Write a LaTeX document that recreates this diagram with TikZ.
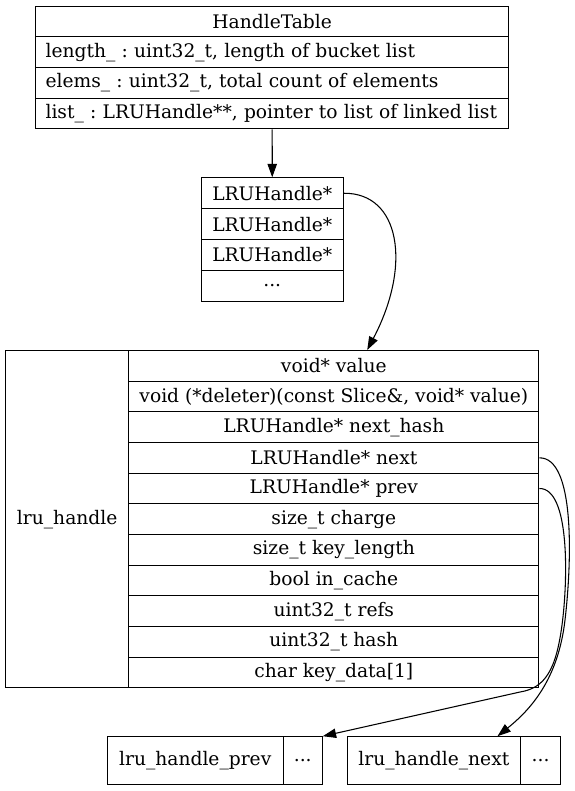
\documentclass[tikz,border=0pt]{standalone}
\usepackage{fontspec}
\setmainfont{DejaVu Serif}
\usetikzlibrary{arrows.meta,calc}
\frenchspacing
\begin{document}
\begin{tikzpicture}[x=0.75pt,y=-0.75pt,
  cell/.style={draw=black, line width=0.8pt, inner sep=0pt, align=center,
    font=\fontsize{14pt}{17pt}\selectfont\frenchspacing, anchor=north west},
  sz/.style n args={2}{minimum width=#1*0.75pt, minimum height=#2*0.75pt},
  lcell/.style={cell, align=left, text width=340pt, inner xsep=7.5pt},
  link/.style={line width=0.8pt, -{Triangle[length=10pt,width=7pt]}}]
\path[use as bounding box, fill=white] (0,0) rectangle (574,791);
% HandleTable
\node[cell, sz={473.3}{30.65}] (ht0) at (35,5.7) {HandleTable};
\node[lcell, sz={473.3}{30.65}] (ht1) at (35,36.35) {\mbox{length\_ : uint32\_t, length of bucket list}};
\node[lcell, sz={473.3}{30.65}] (ht2) at (35,67) {\mbox{elems\_ : uint32\_t, total count of elements}};
\node[lcell, sz={473.3}{30.65}] (ht3) at (35,97.65) {\mbox{list\_ : LRUHandle**, pointer to list of linked list}};
% bucket array
\node[cell, sz={142}{30.85}] (b0) at (200.7,177.3) {LRUHandle*};
\node[cell, sz={142}{30.85}] (b1) at (200.7,208.15) {LRUHandle*};
\node[cell, sz={142}{30.85}] (b2) at (200.7,239) {LRUHandle*};
\node[cell, sz={142}{30.85}] (b3) at (200.7,269.85) {...};
% lru_handle
\node[cell, sz={123.3}{337.3}] (lru) at (5,350) {lru\_handle};
\node[cell, sz={410}{30.66}] (f0) at (128.3,350) {void* value};
\node[cell, sz={410}{30.66}] (f1) at (128.3,380.66) {void (*deleter)(const Slice\&, void* value)};
\node[cell, sz={410}{30.66}] (f2) at (128.3,411.32) {LRUHandle* next\_hash};
\node[cell, sz={410}{30.66}] (f3) at (128.3,441.98) {LRUHandle* next};
\node[cell, sz={410}{30.66}] (f4) at (128.3,472.64) {LRUHandle* prev};
\node[cell, sz={410}{30.66}] (f5) at (128.3,503.3) {size\_t charge};
\node[cell, sz={410}{30.66}] (f6) at (128.3,533.96) {size\_t key\_length};
\node[cell, sz={410}{30.66}] (f7) at (128.3,564.62) {bool in\_cache};
\node[cell, sz={410}{30.66}] (f8) at (128.3,595.28) {uint32\_t refs};
\node[cell, sz={410}{30.66}] (f9) at (128.3,625.94) {uint32\_t hash};
\node[cell, sz={410}{30.66}] (f10) at (128.3,656.6) {char key\_data[1]};
% neighbours
\node[cell, sz={176}{47.6}] (pv) at (106.7,736.2) {lru\_handle\_prev};
\node[cell, sz={39}{47.6}] (pvd) at (282.7,736.2) {...};
\node[cell, sz={173.3}{47.6}] (nx) at (346.7,736.2) {lru\_handle\_next};
\node[cell, sz={40}{47.6}] (nxd) at (520,736.2) {...};
% connectors
\draw[link] (ht3.south) -- (b0.north);
\draw[link] (b0.east) .. controls (400,192.7) and (412,265) .. ($(f0.north)+(33.4,0)$);
\draw[link] (f3.east) .. controls (575,457.3) and (572,560) .. (565,620)
  .. controls (558,680) and (530,710) .. ($(nx.north)+(63.6,0)$);
\draw[link] (f4.east) .. controls (570,488) and (568,580) .. (562,625)
  .. controls (556,670) and (545,688) .. (520,692) -- (pvd.north east);
\end{tikzpicture}
\end{document}
